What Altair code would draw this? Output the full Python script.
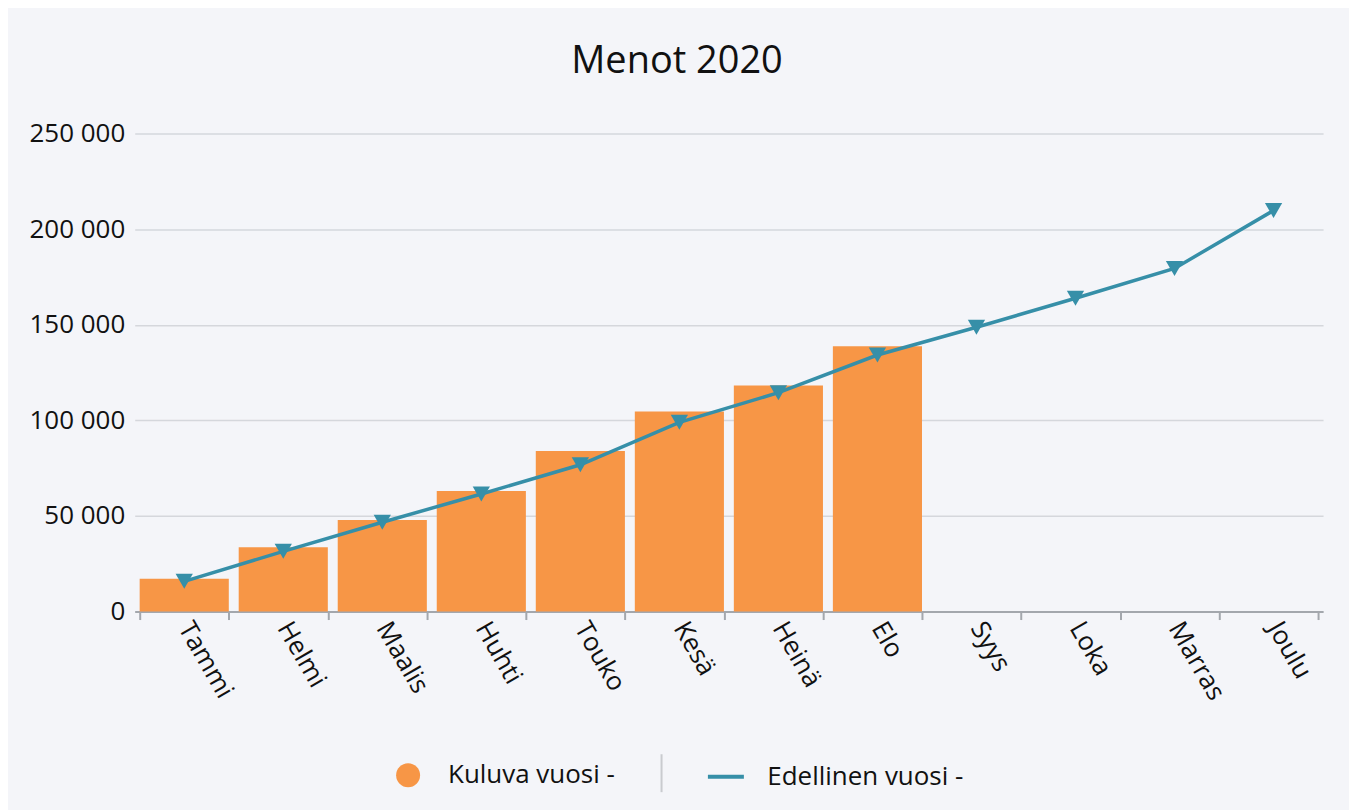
import altair as alt
import pandas as pd

kuukaudet = ["Tammi", "Helmi", "Maalis", "Huhti", "Touko", "Kesä", "Heinä", "Elo",
             "Syys", "Loka", "Marras", "Joulu"]
kuluva = [17100, 33600, 47900, 63100, 84000, 104600, 118300, 138800, None, None, None, None]
edellinen = [15800, 31500, 46700, 61500, 76800, 99000, 114500, 134200,
             148700, 163900, 179500, 209800]
sarja_kuluva = "Kuluva vuosi -"
sarja_edellinen = "Edellinen vuosi -"
y_ticks = [0, 50000, 100000, 150000, 200000, 250000]

ORANGE = "#F79646"
TEAL = "#368FA8"
FONT = "Open Sans"

df = pd.DataFrame({
    "kk": kuukaudet,
    "kuluva": kuluva,
    "edellinen": edellinen,
    "s1": [sarja_kuluva] * 12,
    "s2": [sarja_edellinen] * 12,
})

x_enc = alt.X(
    "kk:N", sort=kuukaudet, title=None,
    scale=alt.Scale(paddingInner=0.1, paddingOuter=0.05),
    axis=alt.Axis(labelAngle=60, tickBand="extent", labelFontSize=26, labelFont=FONT,
                  labelColor="#111111", domainColor="#a3a7ad", domainWidth=2,
                  tickColor="#a3a7ad", tickWidth=2, tickSize=8, labelPadding=4,
                  grid=False, labelLimit=300),
)
y_scale = alt.Scale(domain=[0, 250000])
y_axis = alt.Axis(values=y_ticks, labelExpr="replace(format(datum.value, ','), ',', ' ')",
                  labelFontSize=26, labelFont=FONT, labelColor="#111111", domain=False,
                  ticks=False, labelPadding=10, gridColor="#d5d7dc", gridWidth=1.5,
                  minExtent=110, maxExtent=110, title=None)

bars = alt.Chart(df).mark_bar().encode(
    x=x_enc,
    y=alt.Y("kuluva:Q", scale=y_scale, axis=y_axis),
    color=alt.Color("s1:N", scale=alt.Scale(domain=[sarja_kuluva], range=[ORANGE]),
                    legend=alt.Legend(title=None, orient="none", legendX=261, legendY=630,
                                      direction="horizontal", symbolType="circle",
                                      symbolSize=576, labelFontSize=26, labelFont=FONT,
                                      labelColor="#111111", labelOffset=27, labelLimit=400)),
)

line = alt.Chart(df).mark_line(strokeWidth=3.5).encode(
    x=alt.X("kk:N", sort=kuukaudet),
    y=alt.Y("edellinen:Q", scale=y_scale),
    stroke=alt.Stroke("s2:N", scale=alt.Scale(domain=[sarja_edellinen], range=[TEAL]),
                      legend=alt.Legend(title=None, orient="none", legendX=572, legendY=624,
                                        direction="horizontal", symbolType="stroke",
                                        symbolSize=1300, symbolStrokeWidth=4,
                                        symbolStrokeColor=TEAL,
                                        labelFontSize=26, labelFont=FONT,
                                        labelColor="#111111", labelOffset=21, labelLimit=400)),
)

points = alt.Chart(df).mark_point(shape="triangle-down", filled=True, size=300,
                                  opacity=1, color=TEAL).encode(
    x=alt.X("kk:N", sort=kuukaudet),
    y=alt.Y("edellinen:Q", scale=y_scale),
)

sep = alt.Chart(pd.DataFrame({"a": [0]})).mark_rule(color="#c9cbcf", strokeWidth=2).encode(
    x=alt.value(528), y=alt.value(622), y2=alt.value(660)
)

chart = alt.layer(bars, line, points, sep).properties(
    width=1191, height=479,
    title=alt.TitleParams("Menot 2020", fontSize=38, font=FONT, fontWeight="normal",
                          color="#111111", anchor="middle", frame="group", dx=-52, offset=40),
    background="#f4f5f9",
    padding={"left": 17, "top": 34, "right": 26, "bottom": 22},
).configure_view(strokeWidth=0)

chart.save("out.html", embed_options={"renderer": "svg", "actions": False})
